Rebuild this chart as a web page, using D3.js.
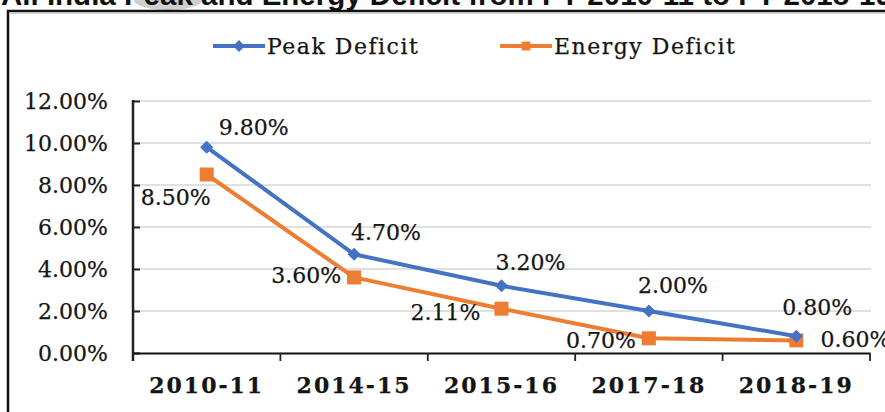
<!DOCTYPE html>
<html>
<head>
<meta charset="utf-8">
<script src="https://cdn.jsdelivr.net/npm/d3@7"></script>
<style>
  html, body { margin: 0; padding: 0; background: #fff; }
  svg { display: block; }
  .serif { font-family: "DejaVu Serif", serif; fill: #151515; stroke: #151515; stroke-width: 0.25px; }
</style>
</head>
<body>
<div id="chart"></div>
<script>
(() => {
  "use strict";

  // ---- data ----
  const years = ["2010-11", "2014-15", "2015-16", "2017-18", "2018-19"];
  const peakDeficit = [9.80, 4.70, 3.20, 2.00, 0.80];
  const energyDeficit = [8.50, 3.60, 2.11, 0.70, 0.60];
  const yTicks = [0, 2, 4, 6, 8, 10, 12];
  const title = "All India Peak and Energy Deficit from FY 2010-11 to FY 2018-19";

  // label nudges (layout only)
  const peakDx = [12, -3, -6, -11, -14];
  const peakDy = [-12, -14, -16, -18, -21];
  const energyDx = [4, -13, -21, -13, 94];
  const energyDy = [30, 6, 11, 10, 7];

  const W = 885, H = 412;
  const BLUE = "#4472C4", ORANGE = "#ED7D31";

  const svg = d3.select("#chart").append("svg").attr("width", W).attr("height", H);

  // cropped title + watermark smudge
  svg.append("ellipse").attr("cx", 168).attr("cy", 0).attr("rx", 34).attr("ry", 10).attr("fill", "#cfcfcf");
  svg.append("text")
    .attr("x", 1).attr("y", 5)
    .attr("font-family", "Liberation Sans, Arial, sans-serif")
    .attr("font-weight", "bold").attr("font-size", 29.5)
    .attr("fill", "#111")
    .text(title);

  // chart frame
  svg.append("rect")
    .attr("x", 8).attr("y", 11).attr("width", W + 20).attr("height", H + 20)
    .attr("fill", "#fff").attr("stroke", "#111").attr("stroke-width", 2.5);
  svg.append("line").attr("x1", 10).attr("x2", W).attr("y1", 13.5).attr("y2", 13.5)
    .attr("stroke", "#d0d0d0").attr("stroke-width", 1);

  const x = d3.scaleBand().domain(years).range([133, 870]);
  const y = d3.scaleLinear().domain([0, 12]).range([353, 101]);
  const cx = d => x(d) + x.bandwidth() / 2;

  // gridlines
  svg.append("g").selectAll("line").data(yTicks.filter(t => t > 0)).join("line")
    .attr("x1", 133).attr("x2", 871)
    .attr("y1", d => y(d)).attr("y2", d => y(d))
    .attr("stroke", "#d6d6d6").attr("stroke-width", 1.5);

  // y axis (ticks inside)
  const yAxis = svg.append("g").attr("transform", "translate(133,0)")
    .call(d3.axisRight(y).tickValues(yTicks).tickSize(7).tickFormat(""));
  yAxis.select(".domain").remove();
  yAxis.selectAll(".tick line").attr("stroke", "#222").attr("stroke-width", 2);
  svg.append("line").attr("x1", 133).attr("x2", 133).attr("y1", 100).attr("y2", 361)
    .attr("stroke", "#222").attr("stroke-width", 2.5);

  // y labels
  svg.append("g").selectAll("text").data(yTicks).join("text")
    .attr("class", "serif")
    .attr("x", 108).attr("y", d => y(d) + 8)
    .attr("text-anchor", "end")
    .attr("font-size", 22)
    .text(d => d3.format(".2f")(d) + "%");

  // x axis
  const xAxis = svg.append("g").attr("transform", "translate(0,353)")
    .call(d3.axisBottom(x).tickSize(0).tickFormat(""));
  xAxis.select(".domain").attr("stroke", "#111").attr("stroke-width", 2.2);
  const bounds = years.map(d => x(d)).concat([x.range()[1]]);
  svg.append("g").selectAll("line").data(bounds).join("line")
    .attr("x1", d => d).attr("x2", d => d).attr("y1", 353).attr("y2", 361)
    .attr("stroke", "#222").attr("stroke-width", 1.8);

  svg.append("g").selectAll("text").data(years).join("text")
    .attr("class", "serif")
    .attr("x", d => cx(d)).attr("y", 393)
    .attr("text-anchor", "middle")
    .attr("font-size", 22).attr("font-weight", "bold")
    .attr("letter-spacing", 2)
    .text(d => d);

  const line = d3.line().x((d, i) => cx(years[i])).y(d => y(d));

  // energy series
  svg.append("path").datum(energyDeficit).attr("d", line)
    .attr("fill", "none").attr("stroke", ORANGE).attr("stroke-width", 4).attr("stroke-linejoin", "round");
  svg.append("g").selectAll("rect").data(energyDeficit).join("rect")
    .attr("x", (d, i) => cx(years[i]) - 7).attr("y", d => y(d) - 7)
    .attr("width", 14).attr("height", 14).attr("fill", ORANGE);

  // peak series
  svg.append("path").datum(peakDeficit).attr("d", line)
    .attr("fill", "none").attr("stroke", BLUE).attr("stroke-width", 4).attr("stroke-linejoin", "round");
  svg.append("g").selectAll("path").data(peakDeficit).join("path")
    .attr("d", d3.symbol(d3.symbolDiamond2, 110))
    .attr("transform", (d, i) => `translate(${cx(years[i])},${y(d)})`)
    .attr("fill", BLUE);

  // data labels
  svg.append("g").selectAll("text").data(peakDeficit).join("text")
    .attr("class", "serif")
    .attr("x", (d, i) => cx(years[i]) + peakDx[i])
    .attr("y", (d, i) => y(d) + peakDy[i])
    .attr("font-size", 22)
    .text(d => d.toFixed(2) + "%");

  svg.append("g").selectAll("text").data(energyDeficit).join("text")
    .attr("class", "serif")
    .attr("x", (d, i) => cx(years[i]) + energyDx[i])
    .attr("y", (d, i) => y(d) + energyDy[i])
    .attr("text-anchor", "end")
    .attr("font-size", 22)
    .text(d => d.toFixed(2) + "%");

  // legend
  const legend = [
    { name: "Peak Deficit", color: BLUE, x: 213, shape: "diamond" },
    { name: "Energy Deficit", color: ORANGE, x: 500, shape: "square" }
  ];
  const lg = svg.append("g").selectAll("g").data(legend).join("g")
    .attr("transform", d => `translate(${d.x},46)`);
  lg.append("line").attr("x1", 0).attr("x2", 52).attr("y1", 0).attr("y2", 0)
    .attr("stroke", d => d.color).attr("stroke-width", 4);
  lg.append("path")
    .attr("d", d => d.shape === "diamond" ? d3.symbol(d3.symbolDiamond2, 90)() : d3.symbol(d3.symbolSquare2, 100)())
    .attr("transform", "translate(26,0)")
    .attr("fill", d => d.color);
  lg.append("text")
    .attr("class", "serif")
    .attr("x", 54).attr("y", 8)
    .attr("font-size", 22).attr("letter-spacing", 1.5)
    .text(d => d.name);
})();
</script>
</body>
</html>
